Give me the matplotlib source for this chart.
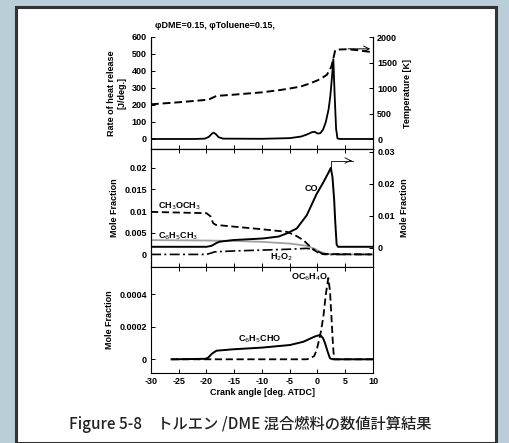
import matplotlib.pyplot as plt
from matplotlib.patches import Rectangle

plt.rcParams['font.family'] = ['Liberation Sans', 'DejaVu Sans']
plt.rcParams['axes.unicode_minus'] = False

# top panel: heat release rate [J/deg.] and temperature [K]
hrr_x = [-30, -22, -20.3, -19.6, -19.0, -18.7, -18.3, -17.8, -17, -10, -5, -3, -2, -1, -0.5,
         0, 0.5, 1, 1.5, 2, 2.3, 2.6, 2.85, 3.1, 3.35, 3.6, 4, 10]
hrr_y = [0, 0, 2, 12, 32, 37, 28, 10, 2, 1, 5, 14, 25, 40, 42,
         32, 34, 55, 100, 175, 250, 360, 470, 250, 60, 3, 0, 0]
temp_x = [-30, -25, -20.3, -19.5, -18.8, -18.2, -15, -10, -6.75, -5, -3, -1.35, 0, 1, 1.7,
          2.5, 2.9, 3.2, 4, 5.25, 7, 10]
temp_y = [680, 720, 765, 780, 815, 845, 870, 915, 960, 990, 1030, 1090, 1150, 1210, 1260,
          1420, 1600, 1745, 1755, 1760, 1745, 1700]

# middle panel: mole fractions
co_x = [-30, -20, -19.1, -18.2, -17.6, -15.2, -9.8, -7, -5.5, -3.75, -1.95, -0.15, 1.05,
        2.0, 2.4, 2.7, 3.0, 3.2, 3.45, 3.7, 10]
co_y = [0.0003, 0.0003, 0.0006, 0.0015, 0.0019, 0.0024, 0.0029, 0.0035, 0.0045, 0.006,
        0.0101, 0.0168, 0.0204, 0.0235, 0.0249, 0.022, 0.015, 0.008, 0.001, 0.0003, 0.0003]
dme_x = [-30, -20, -19.3, -18.8, -18.3, -15, -10, -5.5, -4, -2.55, -0.75, 0.5, 10]
dme_y = [0.0098, 0.0095, 0.0088, 0.0072, 0.0068, 0.0064, 0.0058, 0.0052, 0.0044, 0.0033,
         0.0011, 0.0001, 0.0]
tol_x = [-30, -20, -15, -10, -5, -2, -0.5, 0.5, 1.5, 2.5, 10]
tol_y = [0.0033, 0.0032, 0.0031, 0.0029, 0.0025, 0.0020, 0.0013, 0.0006, 0.0002, 0.0, 0.0]
h2o2_x = [-30, -20, -19.2, -18.5, -15, -10, -5, -1.95, -0.5, 0.5, 1.2, 10]
h2o2_y = [0.0, 0.0, 0.0003, 0.0006, 0.0008, 0.001, 0.0012, 0.0014, 0.0011, 0.0004, 0.0, 0.0]

# bottom panel: aromatic intermediates
cho_x = [-26.3, -20.2, -19.7, -19.0, -18.2, -15.2, -10, -4.95, -2.55, -0.5, 0.45, 1.0, 1.35,
         1.8, 2.25, 2.8, 10]
cho_y = [0, 0.000003, 0.00001, 0.000035, 0.000053, 0.0000615, 0.000072, 0.000088, 0.000108,
         0.00014, 0.00015, 0.00013, 0.0001, 0.00005, 0.000006, 0, 0]
oc_x = [-26.3, -2, -1.35, -0.6, -0.15, 0.5, 1.05, 1.5, 1.95, 2.25, 2.55, 2.8, 3.0, 10]
oc_y = [0, 0, 0.000005, 0.00002, 0.000057, 0.00015, 0.00026, 0.0004, 0.0005, 0.00042,
        0.00024, 0.00008, 0, 0]

x_ticks = [-30, -25, -20, -15, -10, -5, 0, 5, 10]

fs = 6.5
W, H = 509, 443
fig = plt.figure(figsize=(W / 100, H / 100), dpi=100)
fig.patch.set_facecolor('#b9ced9')
fig.patches.append(Rectangle((15.5 / W, 0), (495.5 - 15.5) / W, 1 - 6.5 / H,
                             transform=fig.transFigure, facecolor='white',
                             edgecolor='#333333', linewidth=2.2, zorder=-1))

left, width = 151 / W, (373 - 151) / W


def bold(ax):
    for lab in ax.get_xticklabels() + ax.get_yticklabels():
        lab.set_fontweight('bold')


def panel(top, bottom):
    ax = fig.add_axes([left, 1 - bottom / H, width, (bottom - top) / H])
    ax.set_xlim(-30, 10)
    ax.set_xticks(x_ticks)
    ax.tick_params(direction='in', labelsize=fs, length=3, width=0.7,
                   top=True, bottom=True, pad=3)
    for s in ax.spines.values():
        s.set_linewidth(0.8)
    return ax


# ---- top panel
ax1 = panel(37, 149)
ax1.spines['top'].set_visible(False)
ax1.tick_params(top=False, labelbottom=False)
ax1.set_ylim(-59, 600)
ax1.set_yticks(range(0, 601, 100))
bold(ax1)
ax1.plot(hrr_x, hrr_y, color='black', lw=1.3)
ax1.set_ylabel('Rate of heat release\n[J/deg.]', fontsize=fs, fontweight='bold', labelpad=4,
               linespacing=1.1)
ax1r = ax1.twinx()
ax1r.set_ylim(-196, 2000)
ax1r.set_yticks([0, 500, 1000, 1500, 2000])
ax1r.spines['top'].set_visible(False)
ax1r.tick_params(direction='in', labelsize=fs, length=3, width=0.7, pad=3)
bold(ax1r)
ax1r.plot(temp_x, temp_y, color='black', lw=1.4, dashes=(4, 2))
ax1r.annotate('', xy=(10, 1768), xytext=(5, 1768),
              arrowprops=dict(arrowstyle='->', color='black', lw=0.7))
ax1r.set_ylabel('Temperature [K]', fontsize=fs, fontweight='bold', labelpad=4)
ax1.text(-29.3, 655, 'φDME=0.15, φToluene=0.15,', fontsize=fs, fontweight='bold')

# ---- middle panel
ax2 = panel(149, 267)
ax2.tick_params(labelbottom=False)
ax2.set_ylim(-0.0029, 0.0243)
ax2.set_yticks([0, 0.005, 0.01, 0.015, 0.02])
ax2.set_yticklabels(['0', '0.005', '0.01', '0.015', '0.02'])
bold(ax2)
ax2.plot(tol_x, tol_y, color='#a0a0a0', lw=1.3)
ax2.plot(dme_x, dme_y, color='black', lw=1.3, dashes=(4, 2))
ax2.plot(h2o2_x, h2o2_y, color='black', lw=1.2, dashes=(6, 2, 1.2, 2))
ax2.set_ylabel('Mole Fraction', fontsize=fs, fontweight='bold', labelpad=4)
ax2r = ax2.twinx()
ax2r.set_ylim(-0.006, 0.0308)
ax2r.set_yticks([0, 0.01, 0.02, 0.03])
ax2r.set_yticklabels(['0', '0.01', '0.02', '0.03'])
ax2r.tick_params(direction='in', labelsize=fs, length=3, width=0.7, pad=3)
bold(ax2r)
ax2r.plot(co_x, co_y, color='black', lw=1.4)
ax2r.plot([2.4, 2.4, 6.4], [0.0249, 0.0272, 0.0272], color='black', lw=0.6)
ax2r.annotate('', xy=(6.6, 0.0272), xytext=(5.5, 0.0272),
              arrowprops=dict(arrowstyle='->', color='black', lw=0.6))
ax2r.set_ylabel('Mole Fraction', fontsize=fs, fontweight='bold', labelpad=4)
ax2r.text(-2.4, 0.0184, 'CO', fontsize=fs, fontweight='bold', va='center')
ax2.text(-28.8, 0.0112, r'CH$_3$OCH$_3$', fontsize=fs, fontweight='bold', va='center')
ax2.text(-28.8, 0.0043, r'C$_6$H$_5$CH$_3$', fontsize=fs, fontweight='bold', va='center')
ax2.text(-8.5, -0.0006, r'H$_2$O$_2$', fontsize=fs, fontweight='bold', va='center')

# ---- bottom panel
ax3 = panel(267, 373)
ax3.set_ylim(-0.0000843, 0.000568)
ax3.set_yticks([0, 0.0002, 0.0004])
ax3.set_yticklabels(['0', '0.0002', '0.0004'])
bold(ax3)
ax3.plot(cho_x, cho_y, color='black', lw=1.4)
ax3.plot(oc_x, oc_y, color='black', lw=1.3, dashes=(4, 2))
ax3.set_ylabel('Mole Fraction', fontsize=fs, fontweight='bold', labelpad=4)
ax3.set_xlabel('Crank angle [deg. ATDC]', fontsize=fs, fontweight='bold', labelpad=1)
ax3.text(-14.3, 0.000122, r'C$_6$H$_5$CHO', fontsize=fs, fontweight='bold', va='center')
ax3.text(-4.8, 0.000502, r'OC$_6$H$_4$O', fontsize=fs, fontweight='bold', va='center')

fig.text(250 / W, 1 - 424 / H, 'Figure 5-8　トルエン /DME 混合燃料の数値計算結果',
         fontsize=11, fontweight='medium', ha='center', va='center', color='#222222',
         family=['Noto Sans CJK JP', 'DejaVu Sans'])

fig.savefig('out.png', dpi=100, facecolor=fig.get_facecolor())
